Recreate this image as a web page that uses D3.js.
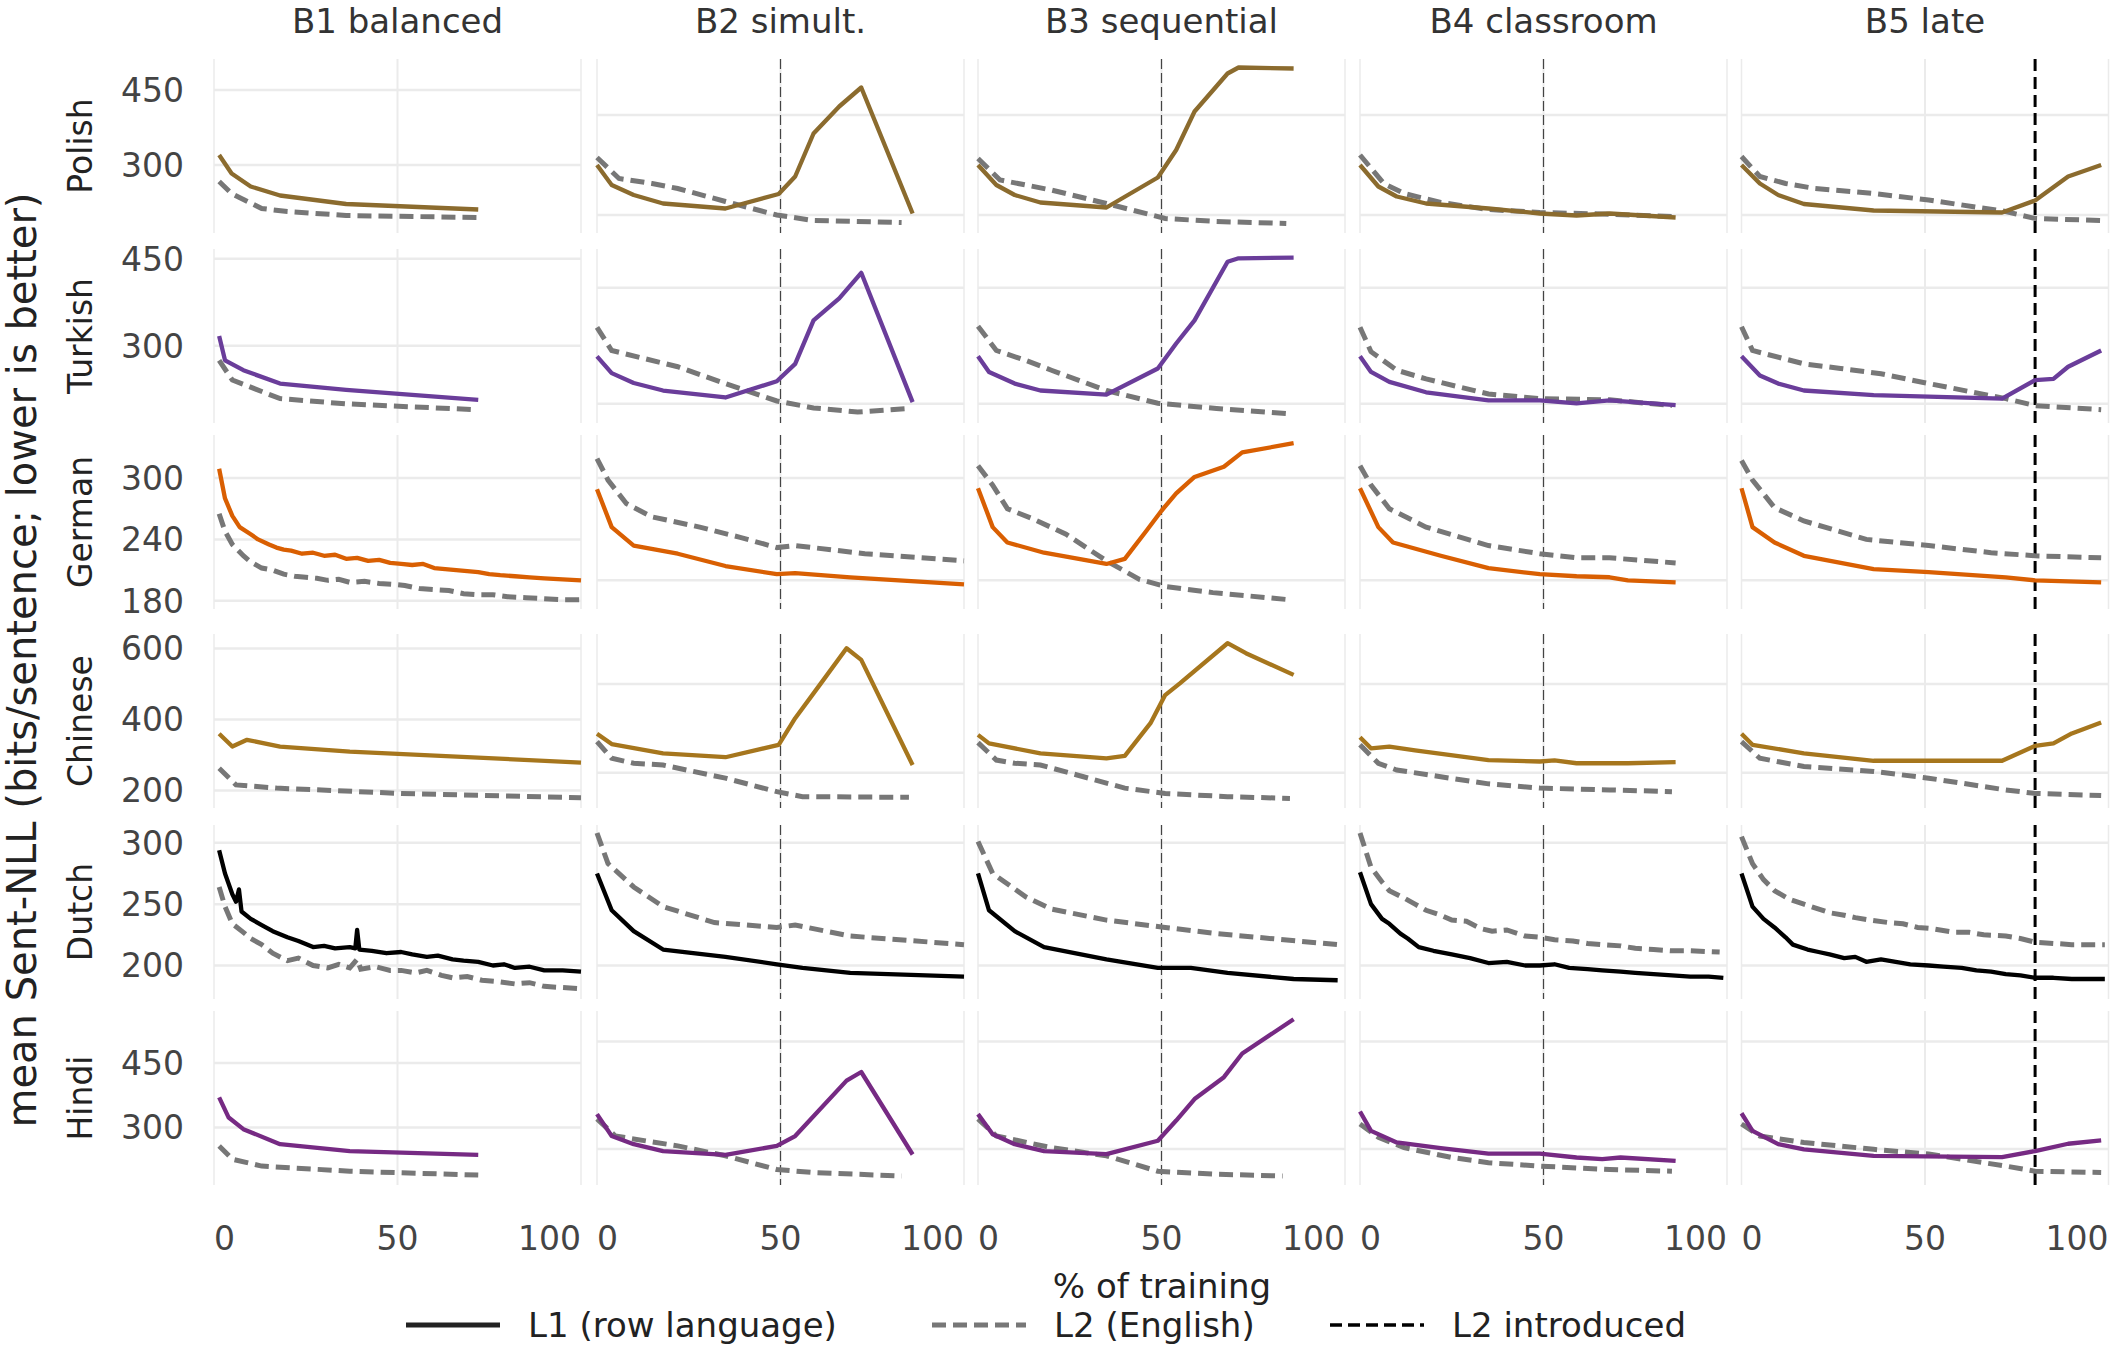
<!DOCTYPE html>
<html><head><meta charset="utf-8">
<script src="https://cdn.jsdelivr.net/npm/d3@7"></script>
<style>body{margin:0;background:#fff}</style>
</head><body>
<svg id="c" width="2115" height="1357"></svg>
<script>
const columns = ["B1 balanced","B2 simult.","B3 sequential","B4 classroom","B5 late"];
const rows = ["Polish","Turkish","German","Chinese","Dutch","Hindi"];
const rowColors = ["#8b6b2e","#6a3d9a","#d95f02","#a6761d","#000000","#762a83"];
const rowDomains = [[164,512],[167,467],[172,342],[151,641],[172.7,314.5],[166,571]];
const firstColTicks = [[300,450],[300,450],[180,240,300],[200,400,600],[200,250,300],[300,450]];
const otherColTicks = [[200,400],[200,400],[200,300],[250,500],[200,300],[250,500]];
const xTicks = [0,50,100];
const l2Intro = [null,50,50,50,80];

// [% of training, bits/sentence]
const polish = {
 B1:{l1:[[1.4,320],[4.8,283],[10,257],[18,239],[36,222],[72,211]],
     l2:[[1.4,267],[4.8,243],[13,213],[20,207],[36,199],[72,195]]},
 B2:{l1:[[0,300],[4,260],[10,240],[18,223],[35,213],[49.5,242],[54,277],[59,363],[66,417],[72,455],[86,203]],
     l2:[[0,315],[6,273],[15,263],[22,253],[35,227],[49,200],[59,189],[83,185]]},
 B3:{l1:[[0,300],[5,260],[10,240],[17,225],[35,215],[49,275],[54,330],[59,407],[68,483],[71,495],[86,493]],
     l2:[[0,313],[6,270],[13,260],[20,250],[35,223],[51,193],[65,187],[84,183]]},
 B4:{l1:[[0,300],[5,257],[10,237],[18,223],[35,213],[49,203],[59,199],[68,203],[86,195]],
     l2:[[0,320],[6.5,263],[12,243],[22,225],[35,211],[49,205],[66,202],[85,197]]},
 B5:{l1:[[0,300],[5,263],[10,240],[17,222],[36,209],[71,205],[80,229],[89,277],[98,300]],
     l2:[[0,317],[5,277],[12,263],[20,253],[36,243],[51,230],[72,207],[80,193],[98,189]]}
};
const turkish = {
 B1:{l1:[[1.4,317],[3,275],[8,258],[18,235],[36,224],[72,207]],
     l2:[[1.4,275],[5,241],[18,209],[36,200],[71,190]]},
 B2:{l1:[[0,282],[4,253],[10,236],[18,223],[35,211],[49,239],[54,269],[59,344],[66,382],[72,426],[86,203]],
     l2:[[0,332],[4,292],[22,264],[35,235],[49,205],[59,193],[71,186],[85,192]]},
 B3:{l1:[[0,282],[3,255],[10,235],[17,223],[35,216],[49,261],[54,304],[59,344],[68,445],[71,451],[86,452]],
     l2:[[0,334],[5,292],[13,275],[20,258],[35,223],[49,201],[65,192],[85,183]]},
 B4:{l1:[[0,282],[3,255],[8,238],[18,220],[35,206],[49,206],[59,201],[68,206],[86,198]],
     l2:[[0,332],[3,290],[10,258],[18,243],[35,217],[49,209],[68,207],[85,197]]},
 B5:{l1:[[0,282],[5,249],[10,235],[17,223],[36,215],[71,209],[80,241],[85,243],[89,264],[98,292]],
     l2:[[0,333],[3,292],[17,269],[27,261],[38,252],[51,235],[72,209],[80,197],[98,190]]}
};
const german = {
 B1:{l1:[[1.4,309],[3,280],[5,263],[7,252],[10,245],[12,240],[15,235],[17,232],[19,230],[21,229],[24,226],[27,227],[30,224],[33,225],[36,221],[39,222],[42,219],[45,220],[48,217],[51,216],[54,215],[57,216],[60,212],[63,211],[66,210],[69,209],[72,208],[75,206],[78,205],[82,204],[86,203],[90,202],[95,201],[100,200]],
     l2:[[1.4,265],[3,248],[5,235],[8,224],[10,218],[13,212],[16,210],[19,206],[22,204],[25,203],[28,202],[31,200],[34,201],[37,198],[41,199],[45,197],[49,196],[52,195],[56,192],[60,191],[64,190],[68,187],[72,186],[76,186],[80,184],[85,183],[90,182],[95,181],[100,181]]},
 B2:{l1:[[0,289],[4,252],[10,234],[22,226],[35,214],[49,206],[54,207],[69,203],[100,196]],
     l2:[[0,319],[3,298],[8,275],[15,262],[28,252],[39,242],[49,232],[54,234],[73,226],[100,219]]},
 B3:{l1:[[0,290],[4,252],[8,237],[18,227],[35,216],[40,221],[46,249],[50,268],[54,285],[59,301],[67,311],[72,325],[86,334]],
     l2:[[0,312],[4,293],[8,270],[15,260],[24,245],[35,219],[44,201],[51,194],[64,188],[85,181]]},
 B4:{l1:[[0,290],[5,252],[9,237],[22,224],[35,212],[49,206],[59,204],[68,203],[73,200],[86,198]],
     l2:[[0,312],[3,293],[8,270],[18,252],[35,234],[49,226],[59,222],[68,222],[86,217]]},
 B5:{l1:[[0,290],[3,252],[9,237],[17,224],[36,211],[51,208],[72,203],[80,200],[98,198]],
     l2:[[0,317],[3,298],[9,271],[17,258],[34,240],[51,234],[68,227],[80,224],[98,222]]}
};
const chinese = {
 B1:{l1:[[1.4,360],[5,324],[9,343],[18,324],[37,310],[100,279]],
     l2:[[1.4,263],[6,216],[17,207],[51,192],[100,180]]},
 B2:{l1:[[0,360],[4,331],[18,305],[35,294],[49.5,329],[54,404],[61,502],[68,601],[72,568],[86,272]],
     l2:[[0,338],[4,291],[10,277],[18,272],[35,235],[49,197],[56,183],[85,181]]},
 B3:{l1:[[0,357],[3,333],[17,305],[35,291],[40,298],[47,390],[51,469],[55,502],[68,615],[73,587],[86,526]],
     l2:[[0,335],[5,286],[10,277],[17,272],[27,244],[40,207],[51,192],[68,183],[85,178]]},
 B4:{l1:[[0,350],[3,319],[8,324],[15,313],[35,286],[49,282],[53,285],[59,277],[73,277],[86,280]],
     l2:[[0,329],[5,277],[10,258],[22,239],[35,219],[49,207],[68,202],[85,197]]},
 B5:{l1:[[0,360],[3,329],[17,305],[36,284],[71,284],[80,326],[85,333],[90,361],[98,392]],
     l2:[[0,338],[5,291],[17,268],[36,254],[51,235],[72,202],[80,192],[98,186]]}
};
const dutch = {
 B1:{l1:[[1.4,294],[3,275],[5,258],[6,252],[6.8,262],[7.5,244],[10,238],[13,233],[16,228],[20,223],[23,220],[27,215],[30,216],[33,214],[37,215],[38.5,214],[39,229],[39.6,213],[43,212],[47,210],[51,211],[54,209],[58,207],[61,208],[65,205],[68,204],[72,203],[76,200],[79,201],[82,198],[86,199],[90,196],[95,196],[100,195]],
     l2:[[1.4,264],[3,248],[5,234],[8,227],[10,222],[13,217],[16,210],[20,204],[23,206],[27,200],[31,198],[34,201],[37,198],[39,205],[40,197],[44,199],[48,196],[51,196],[55,194],[58,196],[62,192],[65,190],[69,191],[73,188],[77,187],[82,185],[86,186],[90,183],[95,182],[100,181]]},
 B2:{l1:[[0,275],[4,245],[10,228],[18,213],[35,207],[49,201],[56,198],[69,194],[100,191]],
     l2:[[0,308],[3,283],[10,264],[18,248],[32,235],[49,231],[54,233],[69,224],[100,217]]},
 B3:{l1:[[0,275],[3,245],[10,228],[18,215],[35,205],[49,198],[58,198],[68,194],[86,189],[98,188]],
     l2:[[0,301],[4,275],[13,256],[20,246],[35,237],[51,231],[65,226],[98,217]]},
 B4:{l1:[[0,276],[3,250],[6,238],[8,234],[11,226],[13,222],[16,215],[20,212],[25,209],[30,206],[35,202],[40,203],[45,200],[49,200],[53,201],[57,198],[62,197],[66,196],[71,195],[75,194],[80,193],[85,192],[90,191],[95,191],[99,190]],
     l2:[[0,308],[3,280],[6,268],[8,261],[12,255],[15,250],[18,245],[22,241],[25,237],[29,236],[33,230],[36,228],[40,229],[45,224],[49,223],[53,221],[58,220],[62,218],[66,217],[71,216],[75,214],[80,213],[85,212],[90,212],[98,211]]},
 B5:{l1:[[0,275],[3,248],[6,238],[9,231],[12,223],[14,217],[18,213],[21,211],[24,209],[28,206],[31,207],[34,203],[38,205],[42,203],[46,201],[51,200],[55,199],[60,198],[64,196],[68,195],[72,193],[76,192],[80,190],[85,190],[90,189],[95,189],[99,189]],
     l2:[[0,305],[3,283],[6,270],[9,261],[13,254],[17,250],[20,247],[24,243],[28,241],[31,239],[35,237],[40,235],[44,234],[48,231],[52,230],[58,227],[62,227],[66,225],[72,224],[76,222],[80,219],[85,218],[90,217],[99,217]]}
};
const hindi = {
 B1:{l1:[[1.4,370],[4,323],[8,296],[18,261],[37,245],[72,236]],
     l2:[[1.4,257],[5,226],[13,210],[37,198],[72,189]]},
 B2:{l1:[[0,331],[4,280],[10,261],[18,245],[35,236],[49,257],[54,280],[68,409],[72,429],[86,237]],
     l2:[[0,320],[5,280],[22,257],[35,234],[49,202],[59,195],[83,187]]},
 B3:{l1:[[0,331],[4,284],[10,261],[18,245],[35,238],[49,269],[54,316],[59,366],[67,417],[72,472],[86,552]],
     l2:[[0,320],[5,280],[20,253],[35,234],[49,198],[65,191],[83,187]]},
 B4:{l1:[[0,337],[3,292],[10,265],[22,252],[35,239],[49,239],[59,230],[66,226],[71,230],[86,222]],
     l2:[[0,308],[5,277],[12,253],[25,230],[35,218],[49,210],[68,202],[85,198]]},
 B5:{l1:[[0,333],[3,292],[10,261],[17,249],[36,234],[71,231],[80,245],[89,262],[98,270]],
     l2:[[0,308],[5,280],[17,265],[36,249],[51,238],[72,210],[80,198],[98,195]]}
};
const rowData = [polish,turkish,german,chinese,dutch,hindi];
const colKeys = ["B1","B2","B3","B4","B5"];

// layout
const colLeft = [214,597,978,1360,1741.5], panelW = 367;
const rowTop = [59,249,435,634,825,1011], panelH = 174;
const FONT = "DejaVu Sans";
const svg = d3.select("#c");
const x = d3.scaleLinear().domain([0,100]);

columns.forEach((t,ci)=>{
  svg.append("text").attr("x",colLeft[ci]+panelW/2).attr("y",33).attr("text-anchor","middle")
    .attr("font-family",FONT).attr("font-size",34).attr("fill","#333").text(t);
});

rows.forEach((rn,ri)=>{
  const y = d3.scaleLinear().domain(rowDomains[ri]).range([rowTop[ri]+panelH,rowTop[ri]]);
  svg.append("text").attr("transform",`translate(92,${rowTop[ri]+panelH/2}) rotate(-90)`)
    .attr("text-anchor","middle").attr("font-family",FONT).attr("font-size",33).attr("fill","#222").text(rn);
  colKeys.forEach((ck,ci)=>{
    x.range([colLeft[ci],colLeft[ci]+panelW]);
    const g = svg.append("g");
    const ticks = ci===0?firstColTicks[ri]:otherColTicks[ri];
    g.selectAll(".hg").data(ticks).join("line")
      .attr("x1",colLeft[ci]).attr("x2",colLeft[ci]+panelW)
      .attr("y1",d=>y(d)).attr("y2",d=>y(d)).attr("stroke","#ebebeb").attr("stroke-width",2.5);
    g.selectAll(".vg").data(xTicks).join("line")
      .attr("x1",d=>x(d)).attr("x2",d=>x(d)).attr("y1",rowTop[ri]).attr("y2",rowTop[ri]+panelH)
      .attr("stroke","#ebebeb").attr("stroke-width",d=>d===50?2:1.5);
    if(ci===0){
      g.selectAll(".yl").data(ticks).join("text").attr("x",184).attr("y",d=>y(d)).attr("dy","0.36em")
        .attr("text-anchor","end").attr("font-family",FONT).attr("font-size",33).attr("fill","#444").text(d=>d);
    }
    if(l2Intro[ci]!==null){
      const late = ci===4;
      g.append("line").attr("x1",x(l2Intro[ci])).attr("x2",x(l2Intro[ci]))
        .attr("y1",rowTop[ri]).attr("y2",rowTop[ri]+panelH)
        .attr("stroke",late?"#000":"#444").attr("stroke-width",late?3:1.2)
        .attr("stroke-dasharray",late?"12,6":"10,4");
    }
    const line = d3.line().x(d=>x(d[0])).y(d=>y(d[1]));
    const s = rowData[ri][ck];
    g.append("path").attr("d",line(s.l2)).attr("fill","none").attr("stroke","#777")
      .attr("stroke-width",5).attr("stroke-dasharray","14,7");
    g.append("path").attr("d",line(s.l1)).attr("fill","none").attr("stroke",rowColors[ri])
      .attr("stroke-width",4.3).attr("stroke-linejoin","round");
    if(ri===rows.length-1){
      xTicks.forEach(v=>{
        svg.append("text").attr("x",x(v)).attr("y",1250)
          .attr("text-anchor",v===0?"start":v===100?"end":"middle")
          .attr("font-family",FONT).attr("font-size",33).attr("fill","#444").text(v);
      });
    }
  });
});

svg.append("text").attr("transform","translate(36,660) rotate(-90)").attr("text-anchor","middle")
  .attr("font-family",FONT).attr("font-size",40).attr("fill","#222").text("mean Sent-NLL (bits/sentence; lower is better)");
svg.append("text").attr("x",1162).attr("y",1298).attr("text-anchor","middle")
  .attr("font-family",FONT).attr("font-size",34).attr("fill","#222").text("% of training");

const legend = [
  {label:"L1 (row language)",color:"#222",w:5,dash:null,x0:406},
  {label:"L2 (English)",color:"#777",w:5,dash:"14,7",x0:932},
  {label:"L2 introduced",color:"#000",w:3.5,dash:"12,6",x0:1330}
];
legend.forEach(l=>{
  svg.append("line").attr("x1",l.x0).attr("x2",l.x0+94).attr("y1",1325).attr("y2",1325)
    .attr("stroke",l.color).attr("stroke-width",l.w).attr("stroke-dasharray",l.dash);
  svg.append("text").attr("x",l.x0+122).attr("y",1325).attr("dy","0.36em")
    .attr("font-family",FONT).attr("font-size",34).attr("fill","#222").text(l.label);
});
</script>
</body></html>
